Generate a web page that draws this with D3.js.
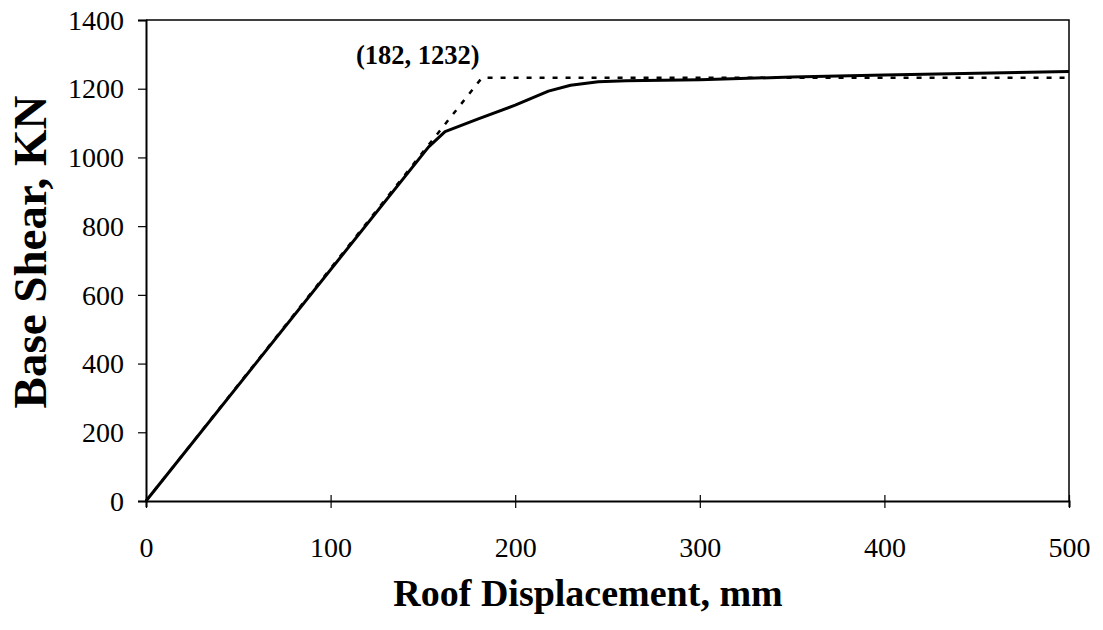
<!DOCTYPE html>
<html>
<head>
<meta charset="utf-8">
<script src="https://cdn.jsdelivr.net/npm/d3@7"></script>
<style>
  html, body { margin: 0; padding: 0; background: #fff; }
  svg { display: block; }
</style>
</head>
<body>
<svg id="chart" width="1103" height="630"></svg>
<script>
// ---- data ----
const curveDisp  = [0, 153, 162, 180, 200, 218, 230, 245, 260, 300, 350, 400, 450, 500];
const curveShear = [0, 1030, 1075, 1112, 1152, 1193, 1210, 1220, 1223, 1226, 1234, 1240, 1245, 1250];
const bilinDisp  = [0, 182, 500];
const bilinShear = [0, 1232, 1232];
const xTicks = [0, 100, 200, 300, 400, 500];
const yTicks = [0, 200, 400, 600, 800, 1000, 1200, 1400];
const annotation = {text: "(182, 1232)", x: 182, y: 1232};
const xTitle = "Roof Displacement, mm";
const yTitle = "Base Shear, KN";

// ---- layout ----
const svg = d3.select("#chart");
const mLeft = 146, mRight = 1069, mTop = 20, mBottom = 501;
const x = d3.scaleLinear().domain([0, 500]).range([mLeft, mRight]);
const y = d3.scaleLinear().domain([0, 1400]).range([mBottom, mTop]);
const serif = "'Liberation Serif', 'Times New Roman', serif";

// frame (top & right)
svg.append("path")
  .attr("d", `M${mLeft},${mTop}H${mRight}V${mBottom}`)
  .attr("fill", "none").attr("stroke", "#000").attr("stroke-width", 1.5);

// x axis
const xAxis = d3.axisBottom(x).tickValues(xTicks).tickSize(6).tickPadding(0).tickFormat(d3.format("d"));
const gx = svg.append("g").attr("transform", `translate(0,${mBottom})`).call(xAxis);
gx.select(".domain").attr("stroke-width", 2);
gx.selectAll(".tick line").attr("y1", -6).attr("y2", 7).attr("stroke-width", 1.2);
gx.selectAll(".tick text")
  .attr("font-family", serif).attr("font-size", 28).attr("fill", "#000")
  .attr("dy", 0).attr("y", 56);

// y axis
const yAxis = d3.axisLeft(y).tickValues(yTicks).tickSize(8).tickPadding(0).tickFormat(d3.format("d"));
const gy = svg.append("g").attr("transform", `translate(${mLeft},0)`).call(yAxis);
gy.select(".domain").attr("stroke-width", 2);
gy.selectAll(".tick line").attr("stroke-width", 1.2);
gy.selectAll(".tick text")
  .attr("font-family", serif).attr("font-size", 28).attr("fill", "#000")
  .attr("x", -22).attr("dy", "0.33em");

// lines
const bilin = bilinDisp.map((d, i) => [d, bilinShear[i]]);
const curve = curveDisp.map((d, i) => [d, curveShear[i]]);
const line = d3.line().x(d => x(d[0])).y(d => y(d[1]));

svg.append("path").datum(bilin)
  .attr("d", line).attr("fill", "none").attr("stroke", "#000")
  .attr("stroke-width", 2.5).attr("stroke-dasharray", "5,8");

svg.append("path").datum(curve)
  .attr("d", line).attr("fill", "none").attr("stroke", "#000")
  .attr("stroke-width", 3).attr("stroke-linejoin", "round");

// annotation
svg.append("text")
  .attr("x", x(annotation.x) - 126).attr("y", y(annotation.y) - 14)
  .attr("font-family", serif).attr("font-weight", "bold").attr("font-size", 26.5)
  .text(annotation.text);

// titles
svg.append("text")
  .attr("x", 588).attr("y", 606).attr("text-anchor", "middle")
  .attr("font-family", serif).attr("font-weight", "bold").attr("font-size", 38)
  .text(xTitle);

svg.append("text")
  .attr("transform", "translate(46,252) rotate(-90)").attr("text-anchor", "middle")
  .attr("font-family", serif).attr("font-weight", "bold").attr("font-size", 47)
  .text(yTitle);
</script>
</body>
</html>
